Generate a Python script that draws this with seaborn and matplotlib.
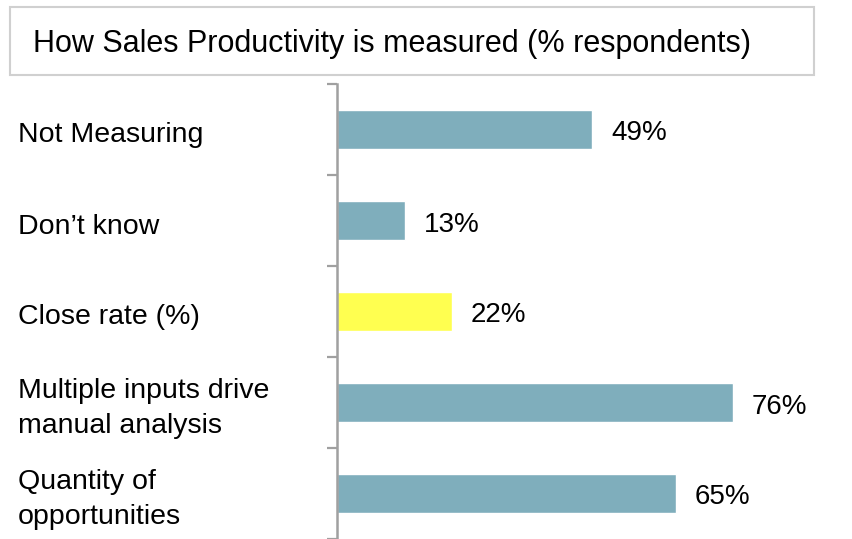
import matplotlib
matplotlib.use("Agg")
import matplotlib.pyplot as plt
import matplotlib.transforms as mtransforms
from matplotlib.patches import Rectangle
import pandas as pd
import seaborn as sns

# Survey answers and their share of respondents
categories = [
    "Not Measuring",
    "Don\u2019t know",
    "Close rate (%)",
    "Multiple inputs drive\nmanual analysis",
    "Quantity of\nopportunities",
]
percentages = [49, 13, 22, 76, 65]
bar_colors = ["#7FAEBC", "#7FAEBC", "#FFFF50", "#7FAEBC", "#7FAEBC"]
value_labels = [f"{v}%" for v in percentages]
title = "How Sales Productivity is measured (% respondents)"

sns.set_theme(style="white")
plt.rcParams["font.family"] = ["Liberation Sans", "DejaVu Sans"]

W, H = 853, 539
fig = plt.figure(figsize=(W / 100, H / 100), dpi=100)
ax = fig.add_axes([337 / W, 0, 1 - 337 / W, 1 - 84 / H])

df = pd.DataFrame({"category": categories, "pct": percentages})
sns.barplot(
    data=df, x="pct", y="category", hue="category", palette=bar_colors,
    legend=False, width=0.42, saturation=1, orient="h", ax=ax,
)

ax.set_xlim(0, 99)
ax.set_ylim(4.49, -0.5)
ax.set_xlabel("")
ax.set_ylabel("")
ax.set_xticks([])

# Left axis line with ticks between the categories
axis_gray = "#A0A0A0"
for side in ("top", "right", "bottom"):
    ax.spines[side].set_visible(False)
ax.spines["left"].set_color(axis_gray)
ax.spines["left"].set_linewidth(1.8)
ax.tick_params(axis="y", which="major", length=0, labelleft=False)
ax.set_yticks([i - 0.5 for i in range(len(categories) + 1)], minor=True)
ax.tick_params(axis="y", which="minor", length=7, width=1.6,
               color=axis_gray, direction="out", left=True)

# Category names, left-aligned at the figure edge
label_tf = mtransforms.blended_transform_factory(fig.transFigure, ax.transData)
label_tf = label_tf + mtransforms.ScaledTranslation(0, -0.06, fig.dpi_scale_trans)
for i, name in enumerate(categories):
    ax.text(18 / W, i, name, transform=label_tf, ha="left", va="center",
            fontsize=20.5, linespacing=1.45, color="black")

# Value labels after each bar
value_tf = ax.transData + mtransforms.ScaledTranslation(0.19, -0.04, fig.dpi_scale_trans)
for i, (v, lab) in enumerate(zip(percentages, value_labels)):
    ax.text(v, i, lab, transform=value_tf, ha="left", va="center",
            fontsize=20, color="black")

# Boxed title
fig.add_artist(Rectangle((10 / W, 1 - 75 / H), (814 - 10) / W, (75 - 7) / H,
                         transform=fig.transFigure, fill=False,
                         edgecolor="#D0D0D0", linewidth=1.5))
fig.text(33 / W, 1 - 52 / H, title, fontsize=22, va="baseline", color="black")

fig.savefig("out.png", dpi=100)
